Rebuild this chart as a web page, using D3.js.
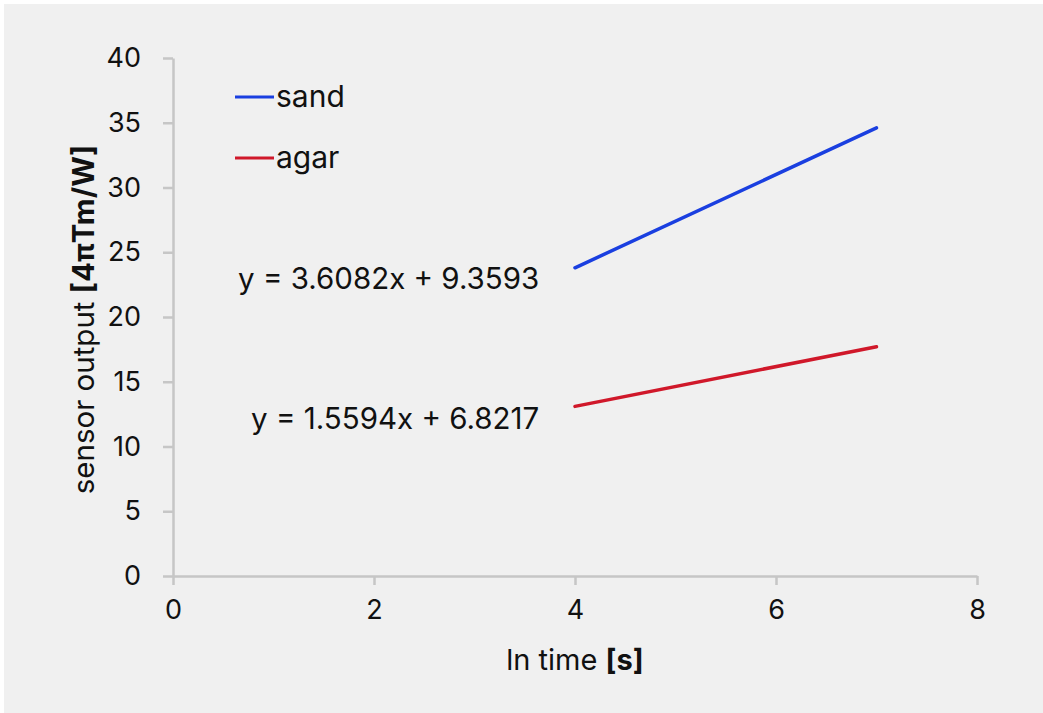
<!DOCTYPE html>
<html><head><meta charset="utf-8">
<script src="https://cdn.jsdelivr.net/npm/d3@7"></script>
<style>body{margin:0;background:#fff}svg{display:block}</style>
</head><body>
<script>
const seriesNames = ["sand", "agar"];
const seriesColors = ["#1a3fe0", "#d0182a"];
const xValues = [4, 7];
const sandValues = [23.8, 34.6];
const agarValues = [13.1, 17.7];
const equations = ["y = 3.6082x + 9.3593", "y = 1.5594x + 6.8217"];
const xTicks = [0, 2, 4, 6, 8];
const yTicks = [0, 5, 10, 15, 20, 25, 30, 35, 40];

const W = 1043, H = 713;
const svg = d3.select("body").append("svg").attr("width", W).attr("height", H);
svg.append("rect").attr("x", 4).attr("y", 4).attr("width", W - 4).attr("height", H - 4).attr("fill", "#f0f0f0");

const font = "Inter, 'Liberation Sans', Arial, sans-serif";
const fs = 27;
const x = d3.scaleLinear().domain([0, 8]).range([173, 977]);
const y = d3.scaleLinear().domain([0, 40]).range([576, 58]);

const axisColor = "#c6c6c6";
const xAxis = svg.append("g").attr("transform", `translate(0,${y(0)})`)
  .call(d3.axisBottom(x).tickValues(xTicks).tickSize(9).tickPadding(15).tickSizeOuter(0));
const yAxis = svg.append("g").attr("transform", `translate(${x(0)},0)`)
  .call(d3.axisLeft(y).tickValues(yTicks).tickSize(10).tickPadding(22).tickSizeOuter(0));
[xAxis, yAxis].forEach(a => {
  a.selectAll("path,line").attr("stroke", axisColor).attr("stroke-width", 2.5);
  a.selectAll("text").attr("font-family", font).attr("font-size", fs).attr("fill", "#111");
});

const series = [sandValues, agarValues];
const line = d3.line().x((d, i) => x(xValues[i])).y(d => y(d));
series.forEach((vals, k) => {
  svg.append("path").datum(vals).attr("d", line).attr("fill", "none")
    .attr("stroke", seriesColors[k]).attr("stroke-width", 3.5).attr("stroke-linecap", "round");
});

// legend
const legY = [97, 158];
seriesNames.forEach((n, k) => {
  svg.append("line").attr("x1", 235).attr("x2", 274).attr("y1", legY[k]).attr("y2", legY[k])
    .attr("stroke", seriesColors[k]).attr("stroke-width", 3);
  svg.append("text").attr("x", 276).attr("y", legY[k] + 10).text(n)
    .attr("font-family", font).attr("font-size", 30).attr("fill", "#111");
});

// equations
const eqPos = [[238, 289], [251, 429]];
equations.forEach((e, k) => {
  svg.append("text").attr("x", eqPos[k][0]).attr("y", eqPos[k][1]).text(e)
    .attr("font-family", font).attr("font-size", 29.5).attr("fill", "#111");
});

// axis titles
const xt = svg.append("text").attr("x", x(4)).attr("y", 670).attr("text-anchor", "middle")
  .attr("font-family", font).attr("font-size", 29).attr("fill", "#111");
xt.append("tspan").text("ln time ");
xt.append("tspan").attr("font-weight", "bold").text("[s]");

const yt = svg.append("text").attr("transform", `translate(94,${y(19.8)}) rotate(-90)`).attr("text-anchor", "middle")
  .attr("font-family", font).attr("font-size", 29.5).attr("fill", "#111");
yt.append("tspan").text("sensor output ");
yt.append("tspan").attr("font-weight", "bold").text("[4πTm/W]");
</script>
</body></html>
